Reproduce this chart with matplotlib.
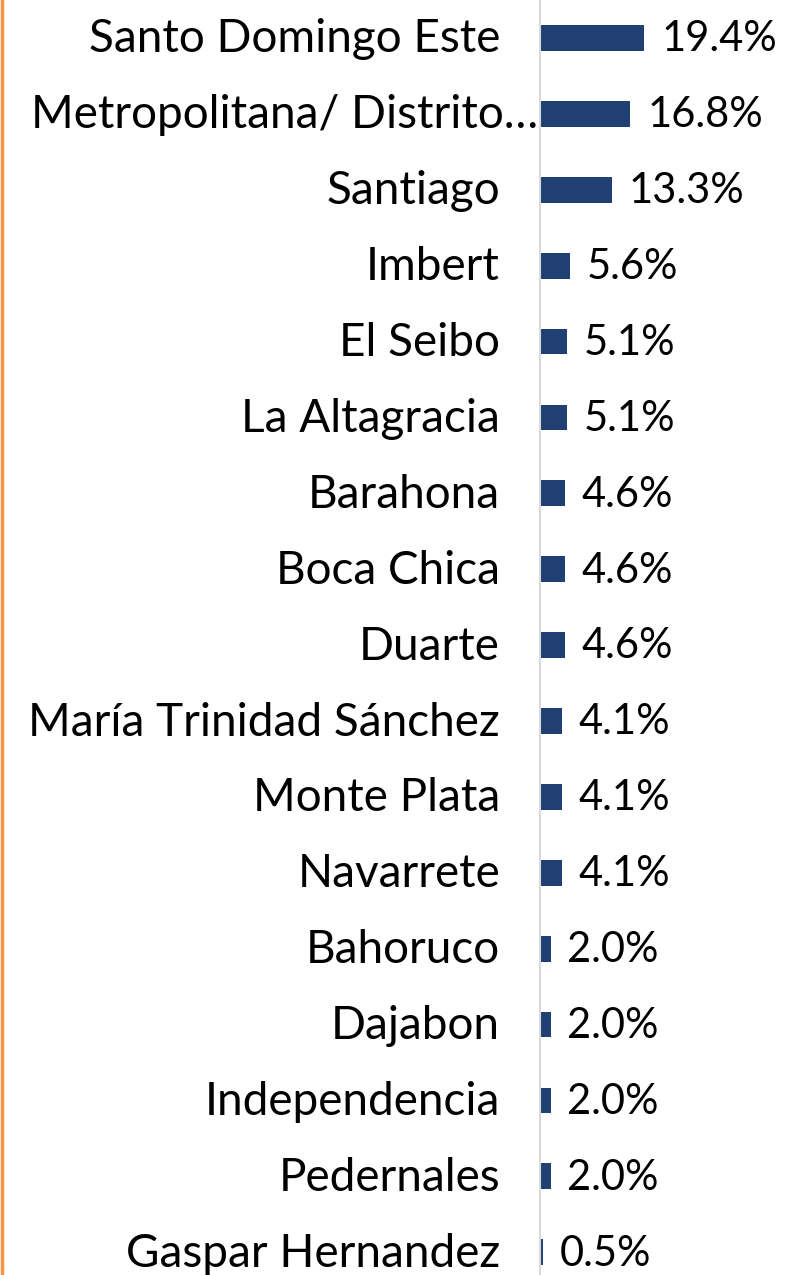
import matplotlib.pyplot as plt
from matplotlib.lines import Line2D

provinces = ["Santo Domingo Este", "Metropolitana/ Distrito…", "Santiago", "Imbert",
             "El Seibo", "La Altagracia", "Barahona", "Boca Chica", "Duarte",
             "María Trinidad Sánchez", "Monte Plata", "Navarrete", "Bahoruco",
             "Dajabon", "Independencia", "Pedernales", "Gaspar Hernandez"]
shares = [19.4, 16.8, 13.3, 5.6, 5.1, 5.1, 4.6, 4.6, 4.6, 4.1, 4.1, 4.1,
          2.0, 2.0, 2.0, 2.0, 0.5]

plt.rcParams['font.family'] = ['Lato', 'DejaVu Sans']

fig = plt.figure(figsize=(7.85, 12.75), dpi=100)
ax = fig.add_axes([540 / 785, 0, 245 / 785, 1])

ypos = list(range(len(provinces)))
ax.barh(ypos, shares, height=0.34, color="#203f73")
ax.set_xlim(0, 245 / 5.38)
ax.set_ylim(16.3, -0.5)

for y, v in zip(ypos, shares):
    ax.annotate(f"{v:.1f}%", (v, y), xytext=(12, -1), textcoords="offset points",
                ha="left", va="center", fontsize=30, color="black")

# category labels drawn by hand so the clipped one can sit closer to the axis
ytrans = ax.get_yaxis_transform()
for y, name in zip(ypos, provinces):
    x = -0.008 if name.endswith("…") else -0.163
    ax.text(x, y + 0.02, name, transform=ytrans, ha="right", va="center",
            fontsize=33, color="black")

ax.set_xticks([])
ax.set_yticks([])
for side in ["top", "right", "bottom"]:
    ax.spines[side].set_visible(False)
ax.spines["left"].set_color("#d9d9d9")
ax.spines["left"].set_linewidth(1.5)

fig.add_artist(Line2D([0.002, 0.002], [0, 1], color="#f79646", linewidth=2.5,
                      transform=fig.transFigure))

fig.savefig("out.png", dpi=100)
